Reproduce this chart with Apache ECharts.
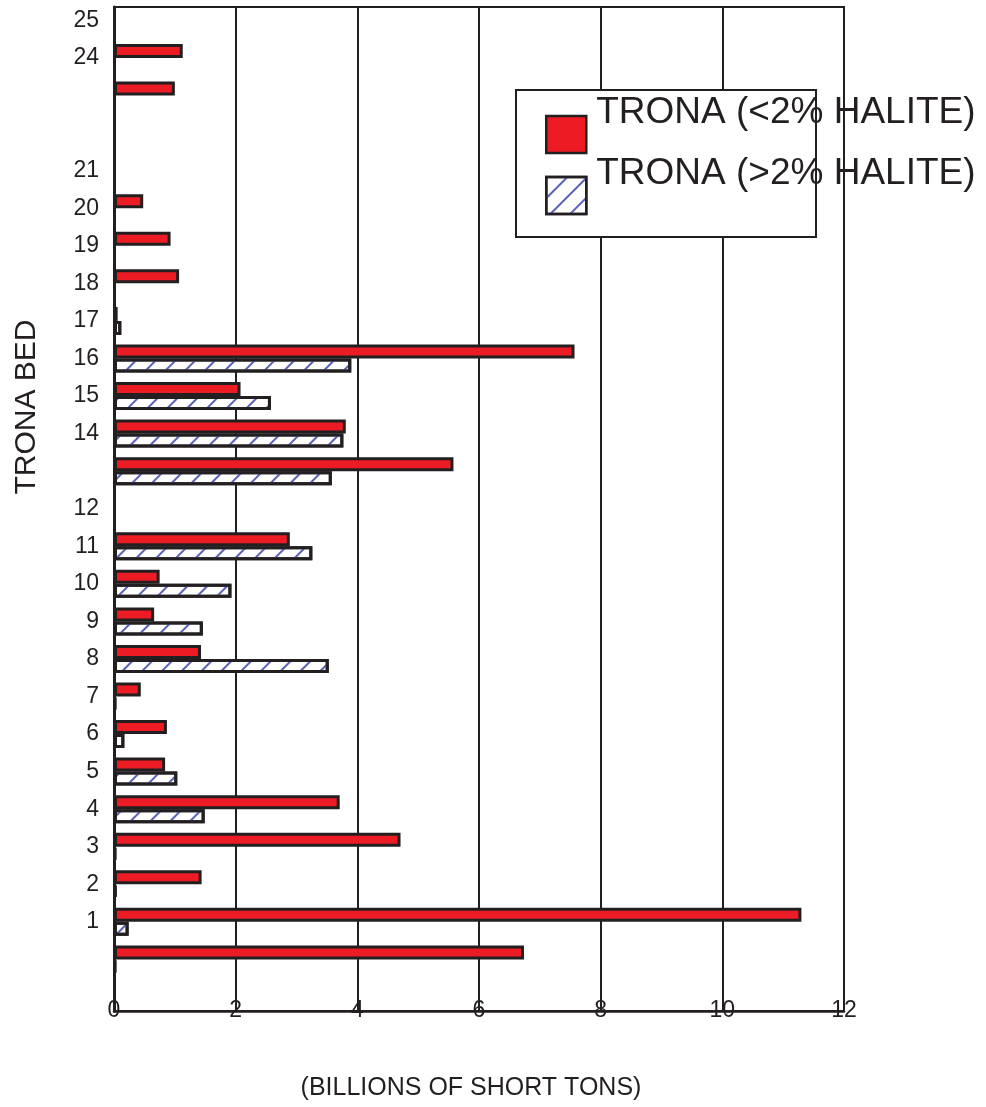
<!DOCTYPE html>
<html>
<head>
<meta charset="utf-8">
<style>
  html, body { margin: 0; padding: 0; background: #fff; }
  #chart { width: 986px; height: 1107px; }
</style>
<script src="https://cdn.jsdelivr.net/npm/echarts@6/dist/echarts.min.js"></script>
</head>
<body>
<div id="chart"></div>
<script>
// Trona beds, bottom to top (-1 and 0 are the unnumbered slots below bed 1)
const beds = ['-1', '0', '1', '2', '3', '4', '5', '6', '7', '8', '9', '10', '11', '12',
  '13', '14', '15', '16', '17', '18', '19', '20', '21', '22', '23', '24', '25'];
// Bed numbers printed on the vertical axis
const bedTickLabels = ['1', '2', '3', '4', '5', '6', '7', '8', '9', '10', '11', '12',
  '14', '15', '16', '17', '18', '19', '20', '21', '24', '25'];
// Resources in billions of short tons
const tronaLowHalite = [null, 6.74, 11.30, 1.44, 4.71, 3.71, 0.84, 0.87, 0.44, 1.43, 0.66, 0.75, 2.89, null,
  5.58, 3.81, 2.08, 7.57, 0.06, 1.07, 0.93, 0.48, null, null, 1.00, 1.13, null];
const tronaHighHalite = [null, 0.03, 0.24, 0.04, 0.03, 1.49, 1.04, 0.17, 0.03, 3.53, 1.46, 1.93, 3.26, null,
  3.58, 3.77, 2.58, 3.90, 0.12, null, null, null, null, null, null, null, null];
const xTicks = { min: 0, max: 12, interval: 2 };
const seriesNames = ['TRONA (<2% HALITE)', 'TRONA (>2% HALITE)'];

const ink = '#231f20';
const font = "'Liberation Sans', Arial, Helvetica, sans-serif";
const hatch = {
  symbol: 'rect',
  symbolSize: 1,
  color: '#5a5fb8',
  dashArrayX: [1, 0],
  dashArrayY: [2, 12],
  rotation: -Math.PI / 4
};

const chart = echarts.init(document.getElementById('chart'), null, { renderer: 'canvas' });
chart.setOption({
  animation: false,
  backgroundColor: '#fff',
  textStyle: { fontFamily: font, color: ink },
  grid: [
    // frame grid
    { left: 114, right: 142, top: 7, height: 1004, show: true, borderColor: ink, borderWidth: 2, backgroundColor: 'transparent' },
    // bar grid
    { left: 114, right: 142, top: 1.66, height: 1014.1 }
  ],
  xAxis: [
    {
      gridIndex: 0, type: 'value', min: xTicks.min, max: xTicks.max, interval: xTicks.interval,
      axisLine: { show: true, lineStyle: { color: ink, width: 2.5 } },
      axisTick: { show: false },
      splitLine: { show: true, lineStyle: { color: ink, width: 2 } },
      axisLabel: { fontSize: 23, color: ink, fontFamily: font, margin: 0, verticalAlign: 'middle' }
    },
    {
      gridIndex: 1, type: 'value', min: xTicks.min, max: xTicks.max, show: false
    }
  ],
  yAxis: [
    {
      gridIndex: 0, type: 'value', min: 0, max: 1,
      axisLine: { show: true, lineStyle: { color: ink, width: 3 } },
      axisTick: { show: false }, axisLabel: { show: false }, splitLine: { show: false }
    },
    {
      gridIndex: 1, type: 'category', data: beds,
      axisLine: { show: false }, axisTick: { show: false }, splitLine: { show: false },
      axisLabel: {
        interval: 0, margin: 15, fontSize: 23, color: ink, fontFamily: font,
        formatter: v => bedTickLabels.includes(v) ? v : ''
      }
    }
  ],
  legend: {
    orient: 'vertical',
    left: 545, top: 91.5,
    padding: 0,
    itemWidth: 40, itemHeight: 37,
    itemGap: -25,
    icon: 'rect',
    data: seriesNames,
    // second empty line lifts the label above the swatch
    formatter: name => name + '\n ',
    textStyle: { fontSize: 37, lineHeight: 43, color: ink, fontFamily: font, padding: [0, 0, 0, 5] },
    itemStyle: { borderColor: ink, borderWidth: 2.5 },
    selectedMode: false,
    z: 6
  },
  graphic: [
    {
      type: 'rect', z: 5,
      shape: { x: 516, y: 90, width: 300, height: 147 },
      style: { fill: '#fff', stroke: ink, lineWidth: 2 }
    },
    {
      type: 'text', x: 27, y: 407, rotation: Math.PI / 2,
      style: { text: 'TRONA BED', fontSize: 30, fontFamily: font, fill: ink, align: 'center', verticalAlign: 'middle' }
    },
    {
      type: 'text', x: 471, y: 1088,
      style: { text: '(BILLIONS OF SHORT TONS)', fontSize: 25, fontFamily: font, fill: ink, align: 'center', verticalAlign: 'middle' }
    }
  ],
  series: [
    {
      name: seriesNames[0], type: 'bar', xAxisIndex: 1, yAxisIndex: 1,
      data: tronaLowHalite, barWidth: 14, barGap: '0%',
      itemStyle: { color: '#ed1c24', borderColor: ink, borderWidth: 3 }
    },
    {
      name: seriesNames[1], type: 'bar', xAxisIndex: 1, yAxisIndex: 1,
      data: tronaHighHalite, barWidth: 14, barGap: '0%',
      itemStyle: { color: '#fff', borderColor: ink, borderWidth: 3, decal: hatch }
    }
  ]
});
</script>
</body>
</html>
